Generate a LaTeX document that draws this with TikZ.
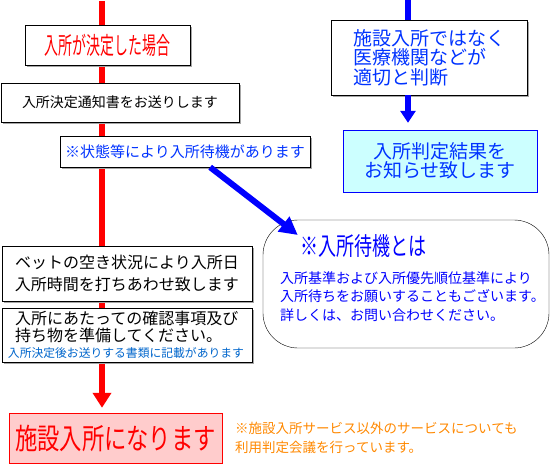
\documentclass[tikz,border=0pt]{standalone}
\usepackage{fontspec}
\setmainfont{Noto Sans CJK JP}
\newfontfamily\narrowfont[FakeStretch=0.58]{Noto Sans CJK JP}
\newfontfamily\slimfont[FakeStretch=0.72]{Noto Sans CJK JP}
\newfontfamily\bigfont[FakeStretch=0.77]{Noto Sans CJK JP}
\usetikzlibrary{arrows.meta,shadows,backgrounds}
\definecolor{txtblue}{RGB}{0,51,255}
\definecolor{noteblue}{RGB}{0,102,204}
\definecolor{lightcyan}{RGB}{204,255,255}
\definecolor{lightpink}{RGB}{255,204,204}
\definecolor{noteorange}{RGB}{255,136,0}
\newcommand{\pxsize}[2]{\fontsize{#1pt}{#2pt}\selectfont}

\begin{document}
\begin{tikzpicture}[x=1pt,y=-1pt,
  box/.style={draw,fill=white,inner sep=0pt,
    drop shadow={shadow xshift=1.5pt,shadow yshift=-1.5pt,fill=gray!70,opacity=1}},
  redline/.style={red,line width=6pt},
  blueline/.style={blue,line width=6pt}]
  \useasboundingbox (0,0) rectangle (550,464);
  \coordinate (rtop) at (102,1);
  \coordinate (btop) at (408,0);
  % left column
  \node[box,minimum width=165pt,minimum height=40pt,text=red,font=\narrowfont\pxsize{24}{24}] (decided) at (107.5,45)
    {入所が決定した場合};
  \node[box,minimum width=238pt,minimum height=39pt,font=\pxsize{14}{14}] (notice) at (120,102.5)
    {入所決定通知書をお送りします};
  \node[box,minimum width=250pt,minimum height=31pt,text=txtblue,font=\pxsize{15}{15}] (wait) at (185,151.5)
    {※状態等により入所待機があります};
  \node[box,minimum width=250pt,minimum height=55pt,align=center,font=\pxsize{16}{22}] (bed) at (127,273.5)
    {ベットの空き状況により入所日\\入所時間を打ちあわせ致します};
  \node[box,minimum width=250pt,minimum height=54pt] (prepare) at (127,335) {};
  \node[anchor=west,align=left,inner sep=0pt,font=\pxsize{16}{17}] (preptext) at (15,326.5)
    {入所にあたっての確認事項及び\\持ち物を準備してください。};
  \node[text=noteblue,inner sep=0pt,font=\pxsize{11.8}{12}] (prepnote) at (126,353)
    {入所決定後お送りする書類に記載があります};
  \node[draw=red,fill=lightpink,minimum width=213pt,minimum height=50pt,text=red,font=\bigfont\pxsize{29}{29}] (final) at (115.5,438)
    {施設入所になります};
  \node[anchor=west,align=left,text=noteorange,inner sep=0pt,font=\pxsize{13.5}{19}] (othernote) at (235,437.5)
    {※施設入所サービス以外のサービスについても\\利用判定会議を行っています。};
  % right column
  \node[box,minimum width=196pt,minimum height=75pt,align=left,text=txtblue,font=\pxsize{19}{19.5}] (judge) at (429,57.5)
    {施設入所ではなく\\医療機関などが\\適切と判断};
  \node[draw=blue,fill=lightcyan,minimum width=194pt,minimum height=62pt,align=center,text=txtblue,font=\pxsize{19}{19.5}] (result) at (440,161)
    {入所判定結果を\\お知らせ致します};
  \node[draw,fill=white,rounded corners=35pt,minimum width=286pt,minimum height=128pt] (waitbox) at (406,284) {};
  \node[text=blue,inner sep=0pt,font=\slimfont\pxsize{25}{25}] (waittitle) at (363,246)
    {※入所待機とは};
  \node[anchor=west,align=left,text=blue,inner sep=0pt,font=\pxsize{14}{18.5}] (waittext) at (280,296.5)
    {入所基準および入所優先順位基準により\\入所待ちをお願いすることもございます。\\詳しくは、お問い合わせください。};
  % arrows
  \begin{pgfonlayer}{background}
    \draw[redline,-{Triangle[width=18pt,length=15pt]},shorten >=5pt] (rtop) -- (final.north -| rtop);
    \draw[blueline] (btop) -- (judge.north -| btop);
  \end{pgfonlayer}
  \draw[blueline,-{Triangle[width=15pt,length=12pt]},shorten >=7pt] (judge.south -| btop) -- (result.north -| btop);
  \draw[blueline,-{Triangle[width=18pt,length=18pt]}] (wait.-32) -- ([xshift=-2pt,yshift=11pt]waittitle.west);
\end{tikzpicture}
\end{document}
